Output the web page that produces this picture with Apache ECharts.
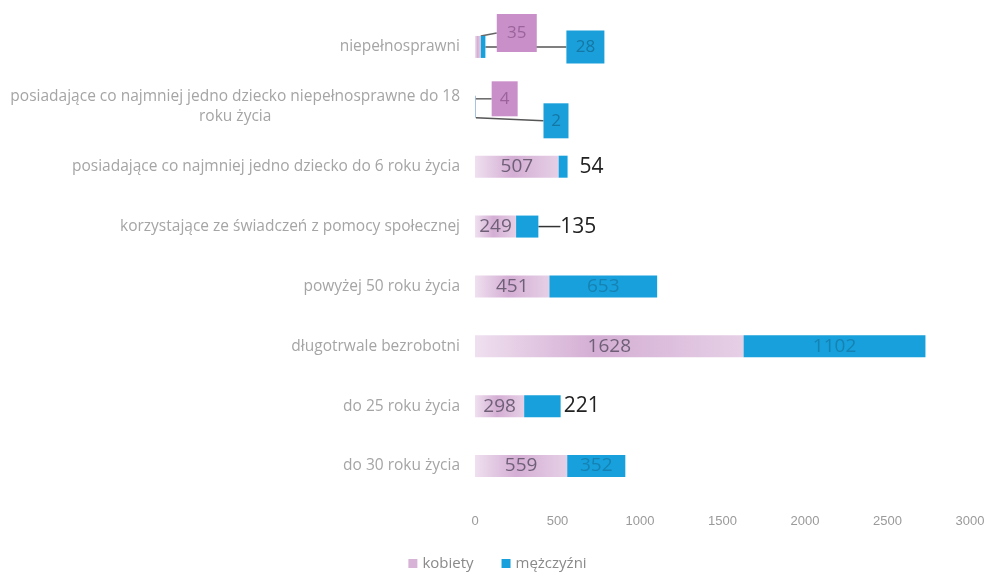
<!DOCTYPE html>
<html>
<head>
<meta charset="utf-8">
<script src="https://cdn.jsdelivr.net/npm/echarts@6/dist/echarts.min.js"></script>
<style>html,body{margin:0;padding:0;background:#fff}#c{width:995px;height:572px}</style>
</head>
<body>
<div id="c"></div>
<script>
var categories = [
  'niepełnosprawni',
  'posiadające co najmniej jedno dziecko niepełnosprawne do 18 roku życia',
  'posiadające co najmniej jedno dziecko do 6 roku życia',
  'korzystające ze świadczeń z pomocy społecznej',
  'powyżej 50 roku życia',
  'długotrwale bezrobotni',
  'do 25 roku życia',
  'do 30 roku życia'
];
var kobiety = [35, 4, 507, 249, 451, 1628, 298, 559];
var mezczyzni = [28, 2, 54, 135, 653, 1102, 221, 352];
var xTicks = [0, 500, 1000, 1500, 2000, 2500, 3000];

var PINK = '#d7b4d7', BLUE = '#17a0db';
var pinkGrad = new echarts.graphic.LinearGradient(0, 0, 1, 0, [
  {offset: 0, color: '#efe0ef'}, {offset: 0.45, color: '#d4aed4'}, {offset: 1, color: '#e6d0e6'}
]);

// label styling per row (callouts for tiny values)
var calloutK = {0: {dx: 31, dy: -14, w: 40, h: 38}, 1: {dx: 24, dy: -8, w: 26, h: 35}};
var calloutM = {0: {dx: 95, dy: 0, w: 38, h: 33}, 1: {dx: 75, dy: 14, w: 25, h: 35}};
var outsideM = {2: {dx: 7}, 3: {dx: 17, line: true}, 6: {dx: -2}};

function kData() {
  return kobiety.map(function (v, i) {
    var d = {value: v};
    if (calloutK[i]) {
      var c = calloutK[i];
      d.label = {position: 'right', backgroundColor: '#c98fc9', color: '#9a649a',
        width: c.w, height: c.h, align: 'center', lineHeight: c.h, padding: 0, fontSize: 17};
      d.labelLine = {show: true, lineStyle: {color: '#666', width: 1.5}};
    }
    return d;
  });
}
function mData() {
  return mezczyzni.map(function (v, i) {
    var d = {value: v};
    if (calloutM[i]) {
      var c = calloutM[i];
      d.label = {position: 'right', backgroundColor: '#1a9fda', color: '#1577a3',
        width: c.w, height: c.h, align: 'center', lineHeight: c.h, padding: 0, fontSize: 17};
      d.labelLine = {show: true, lineStyle: {color: '#555', width: 1.5}};
    } else if (outsideM[i]) {
      d.label = {position: 'right', color: '#222', fontSize: 21, fontWeight: 'normal',
        fontFamily: 'Open Sans', distance: 5};
      if (outsideM[i].line) d.labelLine = {show: true, lineStyle: {color: '#333', width: 1.5}};
    }
    return d;
  });
}

var chart = echarts.init(document.getElementById('c'));
chart.setOption({
  animation: false,
  backgroundColor: '#fff',
  textStyle: {fontFamily: 'Open Sans'},
  grid: {left: 475, right: 25, top: 17, bottom: 76, containLabel: false},
  legend: {
    top: 551, left: 'center', itemWidth: 9, itemHeight: 9, itemGap: 28,
    icon: 'rect',
    textStyle: {color: '#8a8a8a', fontSize: 15},
    data: [{name: 'kobiety', itemStyle: {color: PINK}}, {name: 'mężczyźni'}]
  },
  xAxis: {
    type: 'value', min: xTicks[0], max: xTicks[xTicks.length - 1], interval: 500,
    axisLine: {show: false}, axisTick: {show: false}, splitLine: {show: false},
    axisLabel: {color: '#9a9a9a', fontSize: 13, margin: 19, fontFamily: 'Liberation Sans',
      formatter: function (v) { return String(v); }}
  },
  yAxis: {
    type: 'category', data: categories, inverse: true,
    axisLine: {show: false}, axisTick: {show: false},
    axisLabel: {
      color: '#a5a5a5', fontSize: 15.5, margin: 15,
      formatter: function (v) {
        if (v.length > 60) {
          var k = v.lastIndexOf(' roku');
          return '{c|' + v.slice(0, k) + '\n' + v.slice(k + 1) + '}';
        }
        return v;
      },
      rich: {c: {align: 'center', color: '#a5a5a5', fontSize: 15.5, lineHeight: 20}}
    }
  },
  series: [
    {
      name: 'kobiety', type: 'bar', stack: 's', barWidth: 22,
      itemStyle: {color: pinkGrad},
      label: {show: true, position: 'inside', color: '#6f6078', fontSize: 19, fontFamily: 'Open Sans'},
      labelLayout: function (p) {
        var c = calloutK[p.dataIndex];
        return c ? {dx: c.dx, dy: c.dy} : {};
      },
      data: kData()
    },
    {
      name: 'mężczyźni', type: 'bar', stack: 's', barWidth: 22,
      itemStyle: {color: BLUE},
      label: {show: true, position: 'inside', color: '#1682b3', fontSize: 19, fontFamily: 'Open Sans'},
      labelLayout: function (p) {
        var c = calloutM[p.dataIndex] || outsideM[p.dataIndex];
        return c ? {dx: c.dx, dy: c.dy || 0} : {};
      },
      data: mData()
    }
  ]
});
</script>
</body>
</html>
